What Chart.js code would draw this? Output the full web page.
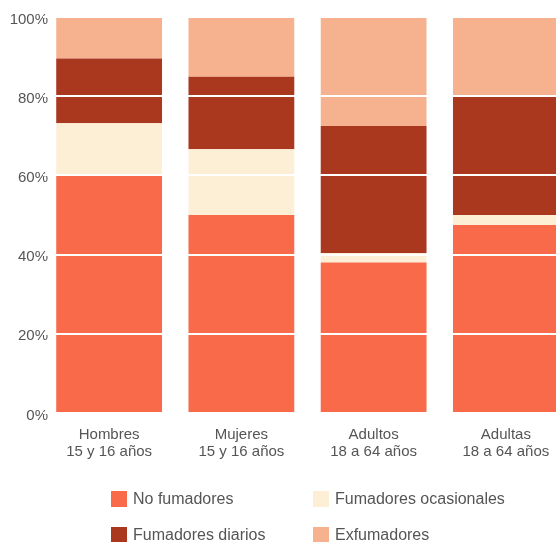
<!DOCTYPE html>
<html>
<head>
<meta charset="utf-8">
<script src="https://cdn.jsdelivr.net/npm/chart.js@4"></script>
<style>
  html, body { margin: 0; padding: 0; background: #fff; overflow: hidden; width: 556px; height: 542px; }
  #wrap { position: absolute; left: 0; top: 0; width: 600px; height: 470px; }
  #legend { position: absolute; left: 0; top: 0; width: 556px; height: 542px; pointer-events: none;
    font-family: "Liberation Sans", Arial, sans-serif; font-size: 16px; color: #555; }
  .item { position: absolute; display: flex; align-items: center; height: 18px; }
  .box { width: 16px; height: 16px; margin-right: 6px; }
</style>
</head>
<body>
<div id="wrap"><canvas id="c"></canvas></div>
<div id="legend"></div>
<script>
const categories = [
  ["Hombres", "15 y 16 años"],
  ["Mujeres", "15 y 16 años"],
  ["Adultos", "18 a 64 años"],
  ["Adultas", "18 a 64 años"]
];
const seriesNames = ["No fumadores", "Fumadores ocasionales", "Fumadores diarios", "Exfumadores"];
const noFumadores = [60, 50, 38, 47.5];
const ocasionales = [13.2, 16.6, 2.4, 2.5];
const diarios = [16.3, 18.3, 32.1, 29.9];
const exfumadores = [10.5, 15.1, 27.5, 20.1];
const yTicks = [0, 20, 40, 60, 80, 100];

const colors = ["#F86A4A", "#FDEFD6", "#A9381F", "#F6B28F"];
const values = [noFumadores, ocasionales, diarios, exfumadores];

const datasets = seriesNames.map((n, i) => ({
  label: n,
  data: values[i],
  backgroundColor: colors[i],
  borderWidth: 0,
  barPercentage: 0.8,
  categoryPercentage: 1.0
}));

const font = { family: '"Liberation Sans", Arial, sans-serif', size: 15 };

new Chart(document.getElementById('c'), {
  type: 'bar',
  data: { labels: categories, datasets },
  options: {
    responsive: true,
    maintainAspectRatio: false,
    animation: false,
    layout: { padding: { top: 17, right: 28, left: 0, bottom: 0 } },
    plugins: { legend: { display: false }, tooltip: { enabled: false } },
    scales: {
      x: {
        stacked: true,
        grid: { display: false, drawTicks: false },
        border: { display: false },
        ticks: { color: '#555', font: { ...font, lineHeight: 1.13 }, padding: 13, maxRotation: 0, autoSkip: false },
        afterFit: s => { s.height = 57; }
      },
      y: {
        stacked: true,
        min: 0, max: 100,
        afterBuildTicks: s => { s.ticks = yTicks.map(v => ({ value: v })); },
        grid: { color: '#ffffff', lineWidth: 2, drawTicks: false, z: 1 },
        border: { display: false },
        ticks: { color: '#555', font, padding: -5, labelOffset: 2.5, callback: v => v + '%' },
        afterFit: s => { s.width = 43; s._computeLabelArea = () => undefined; }
      }
    }
  }
});

// Legend built from the same series arrays
const legendPos = [[111, 490], [313, 490], [111, 526], [313, 526]];
const lg = document.getElementById('legend');
seriesNames.forEach((name, k) => {
  const d = document.createElement('div');
  d.className = 'item';
  d.style.left = legendPos[k][0] + 'px';
  d.style.top = legendPos[k][1] + 'px';
  const b = document.createElement('span');
  b.className = 'box';
  b.style.background = colors[k];
  const t = document.createElement('span');
  t.textContent = name;
  d.appendChild(b); d.appendChild(t);
  lg.appendChild(d);
});
</script>
</body>
</html>
